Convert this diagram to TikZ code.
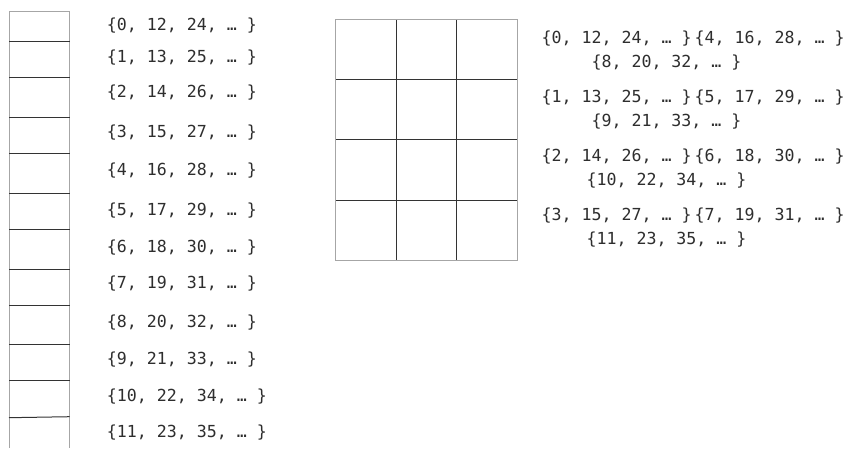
\documentclass[tikz,border=0pt]{standalone}
\usepackage{fontspec}
\newfontfamily\monofont{DejaVu Sans Mono}
\tikzset{
  settext/.style={font=\monofont\fontsize{16.6}{18}\selectfont, text=black!82, inner sep=0pt, anchor=west},
  settextr/.style={font=\monofont\fontsize{16.6}{18}\selectfont, text=black!82, inner sep=0pt},
  outer/.style={draw=black!35, line width=1pt},
  inner/.style={draw=black!80, line width=1pt}
}
\newcommand{\gapsp}{\hspace{3pt}}
\begin{document}
\begin{tikzpicture}[x=1pt,y=-1pt]
\useasboundingbox[fill=white] (0,0) rectangle (852,448);
% left column
\draw[outer] (9,448) -- (9,11) -- (69.7,11) -- (69.7,448);
\foreach \yy in {41.3,77.3,117.3,153.3,193.3,229.3,269.3,305.3,344.3,380.7}
  \draw[inner] (9,\yy) -- (69.7,\yy);
\draw[inner] (9,417.7) -- (69.7,416.7);
% left texts
\node[settext] (l0) at (106.7,26) {\{0, 12, 24, … \}};
\node[settext] (l1) at (106.7,58) {\{1, 13, 25, … \}};
\node[settext] (l2) at (106.7,93) {\{2, 14, 26, … \}};
\node[settext] (l3) at (106.7,133) {\{3, 15, 27, … \}};
\node[settext] (l4) at (106.7,171) {\{4, 16, 28, … \}};
\node[settext] (l5) at (106.7,211) {\{5, 17, 29, … \}};
\node[settext] (l6) at (106.7,248) {\{6, 18, 30, … \}};
\node[settext] (l7) at (106.7,284) {\{7, 19, 31, … \}};
\node[settext] (l8) at (106.7,323) {\{8, 20, 32, … \}};
\node[settext] (l9) at (106.7,360) {\{9, 21, 33, … \}};
\node[settext] (l10) at (106.7,396.5) {\{10, 22, 34, … \}};
\node[settext] (l11) at (106.7,433) {\{11, 23, 35, … \}};
% grid
\foreach \xx in {396.3,456.3}
  \draw[inner] (\xx,19) -- (\xx,260.7);
\foreach \yy in {79.3,139.7,200.7}
  \draw[inner] (335.3,\yy) -- (517,\yy);
\draw[outer] (335.3,19) rectangle (517,260.7);
% right texts
\node[settext] (r0) at (541.5,38.5) {\{0, 12, 24, … \}\gapsp\{4, 16, 28, … \}};
\node[settextr] (r0b) at (666.5,62.5) {\{8, 20, 32, … \}};
\node[settext] (r1) at (541.5,97.5) {\{1, 13, 25, … \}\gapsp\{5, 17, 29, … \}};
\node[settextr] (r1b) at (666.5,121.5) {\{9, 21, 33, … \}};
\node[settext] (r2) at (541.5,156.5) {\{2, 14, 26, … \}\gapsp\{6, 18, 30, … \}};
\node[settextr] (r2b) at (666.5,180.5) {\{10, 22, 34, … \}};
\node[settext] (r3) at (541.5,215.5) {\{3, 15, 27, … \}\gapsp\{7, 19, 31, … \}};
\node[settextr] (r3b) at (666.5,239.5) {\{11, 23, 35, … \}};
\end{tikzpicture}
\end{document}
